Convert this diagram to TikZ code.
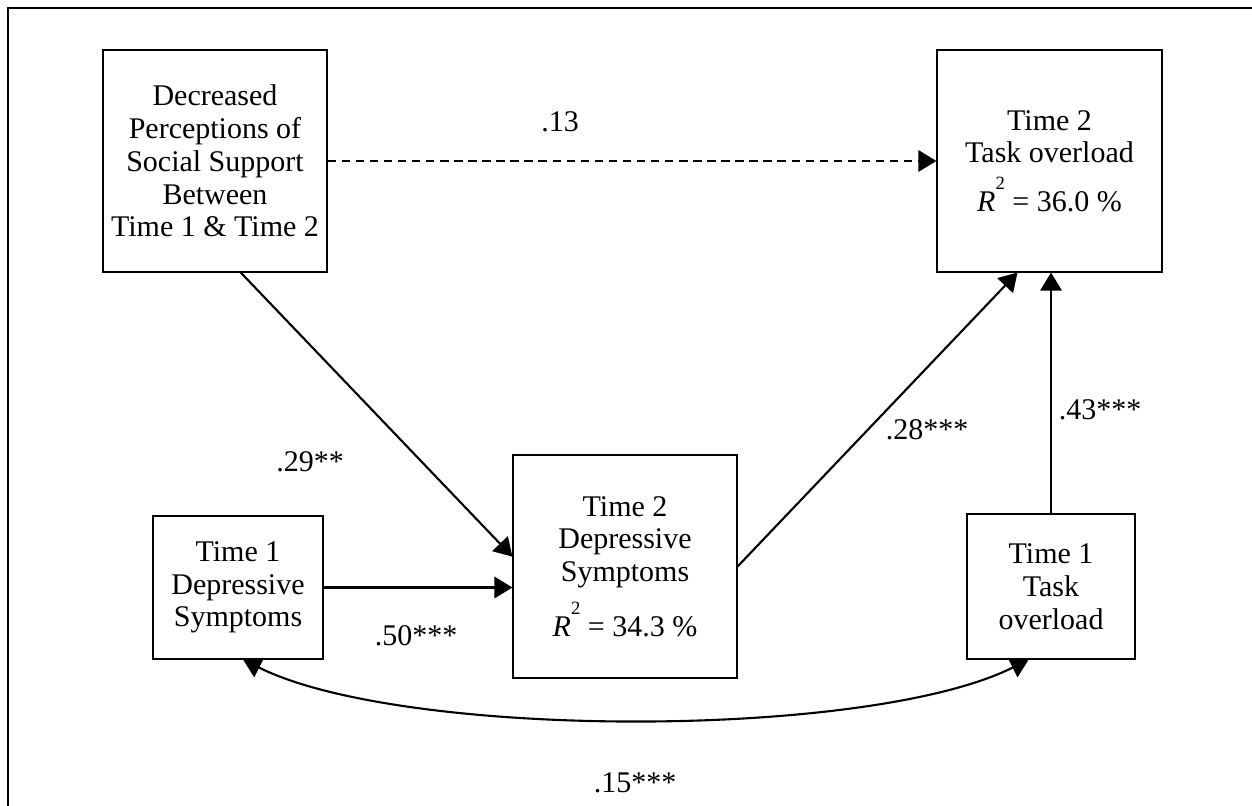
\documentclass[tikz,border=0pt]{standalone}
\usepackage{fontspec}
\setmainfont{Liberation Serif}
\usetikzlibrary{arrows.meta}

\newcommand{\rsq}{\textit{R}\raisebox{0.72em}{\fontsize{8}{8}\selectfont 2}}

\begin{document}
\begin{tikzpicture}[
  x=0.015cm, y=-0.015cm,
  box/.style={draw, line width=0.5pt, align=center, inner sep=0pt, font=\fontsize{12.8}{14}\selectfont},
  link/.style={line width=0.9pt, -{Triangle[length=0.27cm, width=0.32cm]}},
  coef/.style={font=\fontsize{12.8}{14}\selectfont, inner sep=1pt},
  frame/.style={line width=1pt}
]
\useasboundingbox (0,0) rectangle (1252,806);

% ---- frame (top and left edge only) ----
\coordinate (fl) at (8,806);
\coordinate (fc) at (8,8);
\coordinate (fr) at (1252,8);
\draw[frame] (fl) -- (fc) -- (fr);

% ---- variables ----
\node[box, minimum width=3.36cm, minimum height=3.33cm] (dss) at (215,161)
  {Decreased\\Perceptions of\\Social Support\\Between\\Time 1 \& Time 2};
\node[box, minimum width=3.375cm, minimum height=3.33cm] (t2t) at (1049.5,161)
  {Time 2\\Task overload\\[5pt]\rsq{} = 36.0 \%};
\node[box, minimum width=2.55cm, minimum height=2.145cm] (t1d) at (238,587.5)
  {Time 1\\Depressive\\Symptoms};
\node[box, minimum width=3.36cm, minimum height=3.345cm] (t2d) at (625,566.5)
  {Time 2\\Depressive\\Symptoms\\[5pt]\rsq{} = 34.3 \%};
\node[box, minimum width=2.52cm, minimum height=2.175cm] (t1t) at (1051,586.5)
  {Time 1\\Task\\overload};

% ---- paths ----
\draw[link, dash pattern=on 3.6pt off 2.4pt] (dss.east) -- (t2t.west);
\draw[link] (dss.-77) -- (t2d.175);
\draw[link] (t1d.east) -- (t2d.west |- t1d.east);
\draw[link] (t2d.east) -- (t2t.-106);
\draw[link] (t1t.north) -- (t2t.south -| t1t.north);

% correlation between the Time 1 measures
\draw[link, {Triangle[length=0.27cm, width=0.32cm]}-{Triangle[length=0.27cm, width=0.32cm]}]
  (t1d.-86) .. controls +(160,80) and +(-160,80) .. (t1t.-107);

% ---- coefficients ----
\node[coef] (c13) at (560,122) {.13};
\node[coef] (c29) at (310,462) {.29**};
\node[coef] (c50) at (416,636) {.50***};
\node[coef] (c28) at (927,430) {.28***};
\node[coef] (c43) at (1100,410) {.43***};
\node[coef] (c15) at (635,783) {.15***};
\end{tikzpicture}
\end{document}
